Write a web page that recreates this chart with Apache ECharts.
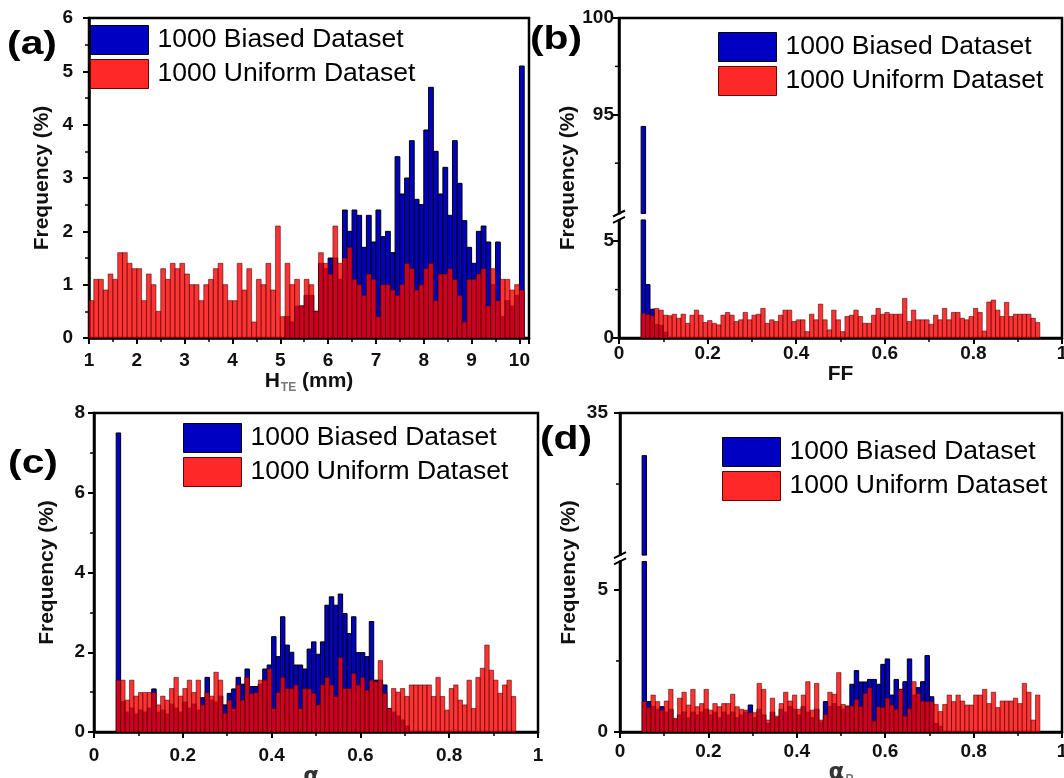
<!DOCTYPE html>
<html><head><meta charset="utf-8">
<script src="https://cdn.jsdelivr.net/npm/echarts@6.0.0/dist/echarts.min.js"></script>
<style>html,body{margin:0;padding:0;background:#fff}#c{width:1064px;height:778px}</style>
</head><body><div id="c"></div>
<script>
// ---------------- data ----------------
const seriesNames = ['1000 Biased Dataset', '1000 Uniform Dataset'];
// panel (a): H_TE bins, start 1.0, width 0.1
const binStartA = 1.0, binWidthA = 0.1;
const biasedA = [0,0,0,0,0,0,0,0,0,0, 0,0,0,0,0,0,0,0,0,0, 0,0,0,0,0,0,0,0,0,0, 0,0,0,0,0,0,0,0,0,0,
  0,0.4,0.3,0.6,0.6,0.8,0.8,0.5,1.4,1.3, 1.5,1.5,1.1,2.4,2.0,2.4,2.3,1.7,2.3,1.8,
  2.4,1.9,2.0,1.6,3.4,2.7,3.0,3.7,2.6,2.5, 3.9,4.7,3.5,2.7,3.2,2.3,3.7,2.9,2.2,1.7,
  1.4,2.0,2.1,1.8,1.0,1.8,0.4,0.7,0.6,0.8, 5.1];
const uniformA = [0.7,1.1,1.1,0.9,1.2,1.1,1.6,1.6,1.4,1.3, 1.3,0.7,1.2,1.0,0.5,1.3,1.1,1.4,1.3,1.4,
  1.2,1.0,1.0,0.7,1.0,1.1,1.3,1.4,1.0,0.7, 0.7,1.4,0.9,1.3,0.3,1.1,1.0,1.4,0.9,2.1,
  0.4,1.4,1.0,1.1,0.6,1.1,1.0,0.5,1.6,1.4, 1.2,2.1,1.4,1.5,1.7,1.1,1.0,0.8,1.2,1.1,
  0.4,1.0,1.0,0.9,0.8,1.0,1.4,1.3,0.9,1.0, 1.3,1.4,0.7,1.2,1.2,1.3,1.1,0.8,0.3,1.1,
  1.1,1.2,1.3,0.6,1.3,0.7,1.1,1.1,0.9,1.0, 0.9];
// panel (b): FF bins, start 0.05, width 0.01
const binStartB = 0.05, binWidthB = 0.01;
const biasedB = [94.4,2.76,1.49,0.7,0.65,0.3,0,0,0,0, 0,0,0,0,0,0,0,0,0,0, 0,0,0,0,0,0,0,0,0,0,
  0,0,0,0,0,0,0,0,0,0, 0,0,0,0,0,0,0,0,0,0, 0,0,0,0,0,0,0,0,0,0, 0,0,0,0,0,0,0,0,0,0,
  0,0,0,0,0,0,0,0,0,0, 0,0,0,0,0,0,0,0,0,0];
const uniformB = [1.28,1.23,1.15,1.53,1.44,1.18,1.15,1.23,1.02,1.23, 0.76,1.18,1.44,1.18,0.8,0.9,0.76,0.68,1.18,1.32,
  1.18,0.85,0.94,1.32,0.94,1.18,1.23,1.53,0.76,0.94, 0.85,1.18,1.44,1.44,0.85,0.94,0.94,0.33,1.23,0.94,
  1.75,0.94,0.42,1.44,0.94,0.33,1.11,1.18,1.44,1.11, 0.76,0.76,1.18,1.53,1.23,1.32,1.23,1.23,1.23,2.05,
  0.85,1.44,0.94,0.94,0.94,0.71,1.18,0.94,1.53,0.94, 1.32,1.32,1.02,0.94,1.11,1.53,1.32,0.36,1.86,1.96,
  1.44,1.11,1.84,1.11,1.23,1.23,1.23,1.23,1.02,0.8];
// panel (c): alpha_N bins
const binStartC = 0.05, binWidthC = 0.01;
const biasedC = [7.5,0.76,0.5,0.6,0.45,0.55,0.5,0.6,1.08,0.5, 0.55,0.45,0.7,0.6,0.5,0.75,0.6,0.7,0.55,0.86,
  1.37,0.8,0.75,0.9,0.68,0.97,1.08,1.37,1.2,1.58, 1.14,1.14,1.2,1.58,1.68,2.39,1.89,2.89,2.18,2.0,
  1.68,1.68,1.58,2.08,2.26,1.95,2.26,3.18,3.39,3.18, 3.46,2.97,2.47,2.89,1.99,1.99,1.89,2.77,1.3,1.3,
  1.18,0.59,0.5,0.4,0.3,0.15,0,0,0,0, 0,0,0,0,0,0,0,0,0,0, 0,0,0,0,0,0,0,0,0,0];
const uniformC = [1.3,1.3,0.8,1.3,0.9,0.99,0.99,0.99,0.99,0.68, 0.9,0.8,1.09,1.37,0.9,1.09,1.3,0.99,1.3,0.68,
  0.99,0.9,1.5,1.3,0.47,0.8,0.59,1.18,0.8,1.37, 0.97,0.99,1.3,1.3,1.58,0.59,0.99,1.37,1.09,1.09,
  1.18,0.59,1.09,1.08,0.97,0.68,1.18,1.37,1.18,0.89, 1.87,1.09,1.09,1.47,1.18,1.37,1.05,1.3,1.26,1.79,
  0.97,0.59,1.09,1.0,1.09,0.89,1.18,1.18,1.18,1.18, 1.18,0.89,1.37,0.89,0.55,1.09,1.18,0.8,0.68,1.3,
  0.59,1.37,1.6,2.18,1.55,1.3,0.97,1.18,1.3,0.89];
// panel (d): alpha_P bins
const binStartD = 0.05, binWidthD = 0.01;
const biasedD = [33.5,1.07,0.9,0.8,0.89,0.7,0.8,0.45,0.6,0.7, 0.5,0.7,0.6,0.7,0.8,0.6,0.7,0.5,0.7,0.6,
  0.7,0.5,0.6,0.7,0.95,0.5,0.8,0.6,0.3,0.7, 0.5,0.8,0.7,0.9,0.8,0.6,0.9,0.7,0.5,0.8,
  0.35,1.07,0.9,1.0,0.9,0.8,0.9,1.68,2.16,1.76, 1.76,1.85,1.85,1.68,2.38,2.57,1.3,1.85,1.5,1.77,
  2.57,1.3,1.56,1.77,2.69,1.24,0.3,0.2,0,0, 0,0,0,0,0,0,0,0,0,0, 0,0,0,0,0,0,0,0,0,0];
const uniformD = [1.07,0.86,1.3,1.07,0.77,1.09,1.5,0.48,1.19,1.4, 0.95,1.5,0.89,1.0,1.5,0.77,1.0,0.89,1.0,1.0,
  1.33,0.89,0.8,0.77,0.68,0.68,1.71,1.5,0.42,1.19, 0.56,1.0,1.4,1.09,1.3,0.8,1.3,1.77,0.77,1.71,
  0.42,0.62,1.4,1.33,2.09,0.97,0.92,0.92,1.15,0.89, 1.36,1.56,0.39,0.89,0.86,1.19,0.95,0.8,1.5,0.56,
  0.83,1.77,1.36,1.09,1.07,1.07,0.97,0.72,0.97,1.3, 1.07,1.3,1.09,0.95,0.95,1.3,1.3,1.5,1.0,1.4,
  0.86,1.09,1.09,1.09,1.19,1.0,1.71,1.4,0.42,1.3];
// axis breaks (value ranges hidden on the broken y axes) and their tick labels
const breakB = [6.1, 89.9];
const breakD = [6.0, 30.0];
const yTicksB = [0, 5, 95, 100];
const yMinorB = [2.5, 92.5, 97.5];
const yTicksD = [0, 5, 35];
const yMinorD = [2.5, 32.5];

// ---------------- helpers ----------------
const FONT = 'Liberation Sans, Arial, Helvetica, sans-serif';
function centers(start, width, n) { const a = []; for (let i = 0; i < n; i++) a.push(+(start + width * (i + 0.5)).toFixed(4)); return a; }
function pairs(start, width, vals) { const c = centers(start, width, vals.length); return vals.map((v, i) => [c[i], v]); }

const blueStyle = { fill: '#0000c2', stroke: '#000', lineWidth: 1 };
const redStyle = { fill: 'rgba(255,0,0,0.8)', stroke: 'rgba(60,0,0,0.55)', lineWidth: 1 };

function makeRender(w, brk, style) {
  return function (params, api) {
    const x = api.value(0), y = api.value(1);
    if (!(y > 0)) return null;
    const cs = params.coordSys;
    const clipR = { x: cs.x, y: cs.y, width: cs.width, height: cs.height };
    const xl = api.coord([x - w / 2, 0])[0], xr = api.coord([x + w / 2, 0])[0];
    const y0 = api.coord([x, 0])[1];
    const segs = [];
    if (brk && y > brk[1]) {
      segs.push([api.coord([x, brk[0]])[1], y0]);
      segs.push([api.coord([x, y])[1], api.coord([x, brk[1]])[1]]);
    } else if (brk && y > brk[0]) {
      segs.push([api.coord([x, brk[0]])[1], y0]);
    } else {
      segs.push([api.coord([x, y])[1], y0]);
    }
    const children = [];
    segs.forEach(s => {
      const r = echarts.graphic.clipRectByRect({ x: xl, y: s[0], width: xr - xl, height: s[1] - s[0] }, clipR);
      if (r) children.push({ type: 'rect', shape: r, style: style });
    });
    return { type: 'group', children };
  };
}
function breakMark(params, api) {
  const p = api.coord([api.value(0), api.value(1)]);
  const q = api.coord([api.value(0), api.value(2)]);
  const x = p[0];
  return { type: 'group', children: [
    { type: 'rect', shape: { x: x - 3, y: q[1] + 1, width: 6, height: p[1] - q[1] - 2 }, style: { fill: '#fff' } },
    { type: 'line', shape: { x1: x - 6, y1: p[1] + 3, x2: x + 6, y2: p[1] - 3 }, style: { stroke: '#000', lineWidth: 2 } },
    { type: 'line', shape: { x1: x - 6, y1: q[1] + 3, x2: x + 6, y2: q[1] - 3 }, style: { stroke: '#000', lineWidth: 2 } }
  ] };
}
function minorMark(params, api) {
  const p = api.coord([api.value(0), api.value(1)]);
  return { type: 'line', shape: { x1: p[0] - 4, y1: p[1], x2: p[0], y2: p[1] }, style: { stroke: '#000', lineWidth: 1.5 } };
}

const labelBase = { fontSize: 19, fontWeight: 'bold', color: '#111', fontFamily: FONT };
const axisCommon = {
  axisLine: { show: true, onZero: false, lineStyle: { color: '#000', width: 2.5 } },
  axisTick: { show: true, length: 6, lineStyle: { color: '#000', width: 2 } },
  minorTick: { show: true, splitNumber: 2, length: 4, lineStyle: { color: '#000', width: 1.5 } },
  splitLine: { show: false }, minorSplitLine: { show: false }
};
function xAx(idx, min, max, interval, name, nameGap, margin, rich) {
  return Object.assign({}, axisCommon, {
    type: 'value', gridIndex: idx, min, max, interval, name, nameLocation: 'middle', nameGap,
    nameTextStyle: { fontSize: 21, fontWeight: 'bold', color: '#111', fontFamily: FONT, rich: rich || {} },
    axisLabel: Object.assign({ margin }, labelBase)
  });
}
function yAx(idx, min, max, interval, nameGap, margin, extra) {
  return Object.assign({}, axisCommon, {
    type: 'value', gridIndex: idx, min, max, interval, name: 'Frequency (%)', nameLocation: 'middle', nameGap,
    nameTextStyle: { fontSize: 21, fontWeight: 'bold', color: '#111', fontFamily: FONT },
    axisLabel: Object.assign({ margin }, labelBase)
  }, extra || {});
}
function brokenY(idx, max, brk, ticks, nameGap, margin) {
  return yAx(idx, 0, max, 5, nameGap, margin, {
    breaks: [{ start: brk[0], end: brk[1], gap: '2%' }],
    breakArea: { show: false },
    axisTick: Object.assign({}, axisCommon.axisTick, { customValues: ticks }),
    minorTick: { show: false },
    axisLabel: Object.assign({ margin, customValues: ticks }, labelBase)
  });
}
function legendAt(left, top) {
  return {
    orient: 'vertical', left, top, padding: 0, itemWidth: 58, itemHeight: 29, itemGap: 4, icon: 'rect',
    selectedMode: false,
    textStyle: { fontSize: 26.5, color: '#000', fontFamily: FONT, padding: [0, 0, 0, 4] },
    data: [
      { name: seriesNames[0], itemStyle: { color: '#0000c2', borderColor: '#000', borderWidth: 1 } },
      { name: seriesNames[1], itemStyle: { color: 'rgba(255,10,10,0.88)', borderColor: '#600', borderWidth: 1 } }
    ]
  };
}
function histSeries(idx, start, width, biased, uniform, brk) {
  return [
    { type: 'custom', name: seriesNames[0], xAxisIndex: idx, yAxisIndex: idx, z: 2,
      itemStyle: { color: '#0000c2' }, data: pairs(start, width, biased), renderItem: makeRender(width, brk, blueStyle) },
    { type: 'custom', name: seriesNames[1], xAxisIndex: idx, yAxisIndex: idx, z: 3,
      itemStyle: { color: 'rgba(255,0,0,0.8)' }, data: pairs(start, width, uniform), renderItem: makeRender(width, brk, redStyle) }
  ];
}
function markSeries(idx, xmin, brk) {
  return { type: 'custom', xAxisIndex: idx, yAxisIndex: idx, z: 20, clip: false, silent: true,
    data: [[xmin, brk[0], brk[1]]], renderItem: breakMark };
}
function minorSeries(idx, xmin, vals) {
  return { type: 'custom', xAxisIndex: idx, yAxisIndex: idx, z: 20, clip: false, silent: true,
    data: vals.map(v => [xmin, v]), renderItem: minorMark };
}

const gridBorder = { show: true, borderColor: '#000', borderWidth: 2.5, backgroundColor: 'transparent', containLabel: false, outerBoundsMode: 'none' };
const subRich = {
  b: { fontSize: 21, fontWeight: 'bold', color: '#111', fontFamily: FONT },
  s: { fontSize: 12, color: '#777', fontFamily: FONT, padding: [13, 0, 0, 1] },
  g: { fontSize: 23, color: '#333', fontFamily: 'DejaVu Sans, sans-serif' }
};
function panelLabel(text, x, y) {
  return { type: 'text', x, y, scaleX: 1.2, style: { text, font: 'bold 34px ' + FONT, fill: '#000', textAlign: 'center', textVerticalAlign: 'middle' } };
}

const option = {
  backgroundColor: '#fff',
  animation: false,
  grid: [
    Object.assign({ left: 89, top: 18, width: 440, height: 320 }, gridBorder),
    Object.assign({ left: 619, top: 18, width: 443, height: 320 }, gridBorder),
    Object.assign({ left: 94, top: 413, width: 444, height: 319 }, gridBorder),
    Object.assign({ left: 620, top: 413, width: 442, height: 319 }, gridBorder)
  ],
  xAxis: [
    xAx(0, 1, 10.2, 1, '{b|H}{s|TE}{b| (mm)}', 26, 13, subRich),
    xAx(1, 0, 1, 0.2, 'FF', 24, 6),
    xAx(2, 0, 1, 0.2, '{g|α}{s|N}', 27, 14, subRich),
    xAx(3, 0, 1, 0.2, '{g|α}{s|P}', 27, 10, subRich)
  ],
  yAxis: [
    yAx(0, 0, 6, 1, 36, 16),
    brokenY(1, 100, breakB, yTicksB, 40, 5),
    yAx(2, 0, 8, 2, 36, 9),
    brokenY(3, 35, breakD, yTicksD, 40, 12)
  ],
  legend: [legendAt(90, 25), legendAt(718, 32), legendAt(183, 423), legendAt(722, 437)],
  series: [].concat(
    histSeries(0, binStartA, binWidthA, biasedA, uniformA, null),
    histSeries(1, binStartB, binWidthB, biasedB, uniformB, breakB),
    histSeries(2, binStartC, binWidthC, biasedC, uniformC, null),
    histSeries(3, binStartD, binWidthD, biasedD, uniformD, breakD),
    [markSeries(1, 0, breakB), markSeries(3, 0, breakD), minorSeries(1, 0, yMinorB), minorSeries(3, 0, yMinorD)]
  ),
  graphic: [
    panelLabel('(a)', 32, 45),
    panelLabel('(b)', 556, 40),
    panelLabel('(c)', 33, 464),
    panelLabel('(d)', 566, 440)
  ]
};
const chart = echarts.init(document.getElementById('c'), null, { renderer: 'canvas' });
chart.setOption(option);
</script></body></html>
